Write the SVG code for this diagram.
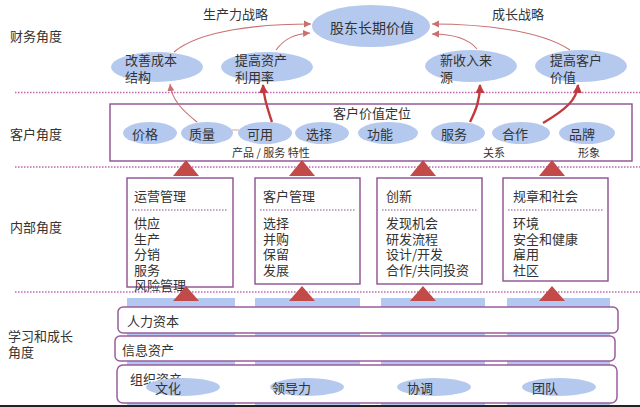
<svg xmlns="http://www.w3.org/2000/svg" width="640" height="407" viewBox="0 0 640 407">
<defs>
<style>
text{font-family:"Noto Sans CJK SC","Noto Sans",sans-serif;fill:#333;font-size:13px}
.lbl{dominant-baseline:central}
.ell{fill:#b5c9ef}
.dot{stroke:#c066b0;stroke-width:1.6;stroke-dasharray:1.5 1.5;fill:none}
.box{fill:#fff;stroke:#8e4f91;stroke-width:1.4}
.sep{stroke:#8e4f91;stroke-width:1;stroke-dasharray:1.5 1.5}
.rr{fill:#fff;stroke:#9a5c9e;stroke-width:1.5}
.bar{fill:#b3c8f0}
.tri{fill:#c24a48}
.thin{fill:none;stroke:#c97070;stroke-width:1.1}
.thick{fill:none;stroke:#c23a3e;stroke-width:2.4}
.small{font-size:11px}
</style>
<marker id="ah" markerWidth="8" markerHeight="8" refX="7" refY="4" orient="auto" markerUnits="userSpaceOnUse">
<path d="M0,0.5 L7,4 L0,7.5 Z" fill="#c97070"/>
</marker>
<marker id="ahk" markerWidth="10" markerHeight="10" refX="8" refY="5" orient="auto" markerUnits="userSpaceOnUse">
<path d="M0,0.5 L9,5 L0,9.5 Z" fill="#c23a3e"/>
</marker>
</defs>
<rect width="640" height="407" fill="#fff"/>

<g id="perspectives">
<text class="lbl" x="10" y="35">财务角度</text>
<text class="lbl" x="10" y="133">客户角度</text>
<text class="lbl" x="10" y="226">内部角度</text>
<text class="lbl" x="8" y="335">学习和成长<tspan x="8" dy="16">角度</tspan></text>
<text class="lbl" x="203" y="13">生产力战略</text>
<text class="lbl" x="492" y="13">成长战略</text>
</g>

<g id="dividers">
<line class="dot" x1="15" y1="92.5" x2="640" y2="92.5"/>
<line class="dot" x1="15" y1="167" x2="640" y2="167"/>
<line class="dot" x1="15" y1="292" x2="640" y2="292"/>
</g>

<g id="fin-shareholder"><ellipse class="ell" cx="371" cy="26" rx="59" ry="21"/><text class="lbl" x="330" y="27" style="font-size:14px">股东长期价值</text></g>
<g id="fin-cost"><ellipse class="ell" cx="157" cy="67" rx="46" ry="15"/><text class="lbl" x="125" y="59">改善成本<tspan x="125" dy="17">结构</tspan></text></g>
<g id="fin-asset"><ellipse class="ell" cx="267" cy="67" rx="46" ry="15"/><text class="lbl" x="235" y="59">提高资产<tspan x="235" dy="17">利用率</tspan></text></g>
<g id="fin-revenue"><ellipse class="ell" cx="471" cy="66" rx="46" ry="16"/><text class="lbl" x="440" y="59">新收入来<tspan x="440" dy="17">源</tspan></text></g>
<g id="fin-custvalue"><ellipse class="ell" cx="581" cy="66" rx="46" ry="16"/><text class="lbl" x="550" y="59">提高客户<tspan x="550" dy="17">价值</tspan></text></g>

<g id="customer-value">
<rect class="box" x="110" y="104" width="522" height="57"/>
<text class="lbl" x="333" y="112">客户价值定位</text>
<line x1="232" y1="130" x2="239" y2="130" stroke="#d9a0a0" stroke-width="1"/>
<ellipse class="ell" cx="150" cy="133" rx="27" ry="11"/><text class="lbl" x="132" y="133">价格</text>
<ellipse class="ell" cx="207" cy="133" rx="26" ry="11"/><text class="lbl" x="189" y="133">质量</text>
<ellipse class="ell" cx="265" cy="133" rx="27" ry="11"/><text class="lbl" x="247" y="133">可用</text>
<ellipse class="ell" cx="322" cy="133" rx="27" ry="11"/><text class="lbl" x="306" y="133">选择</text>
<ellipse class="ell" cx="388" cy="133" rx="30" ry="11"/><text class="lbl" x="367" y="133">功能</text>
<ellipse class="ell" cx="458" cy="133" rx="27" ry="11"/><text class="lbl" x="441" y="133">服务</text>
<ellipse class="ell" cx="521" cy="133" rx="29" ry="11"/><text class="lbl" x="502" y="133">合作</text>
<ellipse class="ell" cx="587" cy="133" rx="28" ry="11"/><text class="lbl" x="569" y="133">品牌</text>
<text class="lbl small" x="232" y="152">产品 / 服务 特性</text>
<text class="lbl small" x="483" y="152">关系</text>
<text class="lbl small" x="578" y="152">形象</text>
</g>

<g id="bars">
<rect class="bar" x="127" y="298" width="108" height="108"/>
<rect class="bar" x="255" y="298" width="105" height="108"/>
<rect class="bar" x="381" y="298" width="104" height="108"/>
<rect class="bar" x="507" y="298" width="103" height="108"/>
</g>

<g id="int-ops"><rect class="box" x="127" y="178" width="106" height="109"/><text class="lbl" x="134" y="195">运营管理</text><line class="sep" x1="132" y1="210" x2="228" y2="210"/>
<text class="lbl" x="134" y="222">供应<tspan x="134" dy="15.5">生产</tspan><tspan x="134" dy="15.5">分销</tspan><tspan x="134" dy="15.5">服务</tspan><tspan x="134" dy="15.5">风险管理</tspan></text></g>
<g id="int-cust"><rect class="box" x="255" y="178" width="105" height="106"/><text class="lbl" x="263" y="195">客户管理</text><line class="sep" x1="260" y1="210" x2="355" y2="210"/>
<text class="lbl" x="263" y="222">选择<tspan x="263" dy="15.5">并购</tspan><tspan x="263" dy="15.5">保留</tspan><tspan x="263" dy="15.5">发展</tspan></text></g>
<g id="int-innov"><rect class="box" x="377" y="178" width="105" height="106"/><text class="lbl" x="386" y="195">创新</text><line class="sep" x1="382" y1="210" x2="477" y2="210"/>
<text class="lbl" x="386" y="222">发现机会<tspan x="386" dy="15.5">研发流程</tspan><tspan x="386" dy="15.5">设计/开发</tspan><tspan x="386" dy="15.5">合作/共同投资</tspan></text></g>
<g id="int-reg"><rect class="box" x="503" y="178" width="105" height="103"/><text class="lbl" x="513" y="195">规章和社会</text><line class="sep" x1="508" y1="210" x2="603" y2="210"/>
<text class="lbl" x="513" y="222">环境<tspan x="513" dy="15.5">安全和健康</tspan><tspan x="513" dy="15.5">雇用</tspan><tspan x="513" dy="15.5">社区</tspan></text></g>

<g id="learn-human"><rect class="rr" x="118" y="307" width="500" height="26" rx="5"/><text class="lbl" x="127" y="320">人力资本</text></g>
<g id="learn-info"><rect class="rr" x="115" y="336" width="500" height="25" rx="5"/><text class="lbl" x="122" y="349">信息资产</text></g>
<g id="learn-org"><rect class="rr" x="117" y="365" width="500" height="38" rx="6"/><text class="lbl" x="130" y="378">组织资产</text>
<ellipse class="ell" cx="183" cy="387" rx="37" ry="9"/><text class="lbl" x="155" y="387">文化</text>
<ellipse class="ell" cx="307" cy="387" rx="37" ry="9"/><text class="lbl" x="272" y="387">领导力</text>
<ellipse class="ell" cx="434" cy="387" rx="37" ry="9"/><text class="lbl" x="407" y="387">协调</text>
<ellipse class="ell" cx="559" cy="387" rx="37" ry="9"/><text class="lbl" x="532" y="387">团队</text></g>

<g id="connectors">
<path class="tri" d="M186,160 L199,176 L173,176 Z"/>
<path class="tri" d="M302,160 L315,176 L289,176 Z"/>
<path class="tri" d="M423,160 L436,176 L410,176 Z"/>
<path class="tri" d="M552,160 L565,176 L539,176 Z"/>
<path class="tri" d="M186,286 L199,301 L173,301 Z"/>
<path class="tri" d="M302,286 L315,301 L289,301 Z"/>
<path class="tri" d="M423,286 L436,301 L410,301 Z"/>
<path class="tri" d="M552,286 L565,301 L539,301 Z"/>
<path class="thin" d="M197,122 C182,110 172,100 170,84" marker-end="url(#ah)"/>
<path class="thick" d="M272,122 C268,110 264,100 263,85" marker-end="url(#ahk)"/>
<path class="thick" d="M470,122 C476,110 480,100 480,85" marker-end="url(#ahk)"/>
<path class="thick" d="M543,123 C565,110 577,100 578,85" marker-end="url(#ahk)"/>
<path class="thin" d="M174,52 C200,30 260,24 311,24" marker-end="url(#ah)"/>
<path class="thin" d="M276,50 C285,38 295,34 310,33" marker-end="url(#ah)"/>
<path class="thin" d="M477,49 C468,38 450,34 432,34" marker-end="url(#ah)"/>
<path class="thin" d="M570,50 C540,30 480,24 432,24" marker-end="url(#ah)"/>
</g>
<rect x="0" y="405" width="640" height="2" fill="#222"/>
</svg>
